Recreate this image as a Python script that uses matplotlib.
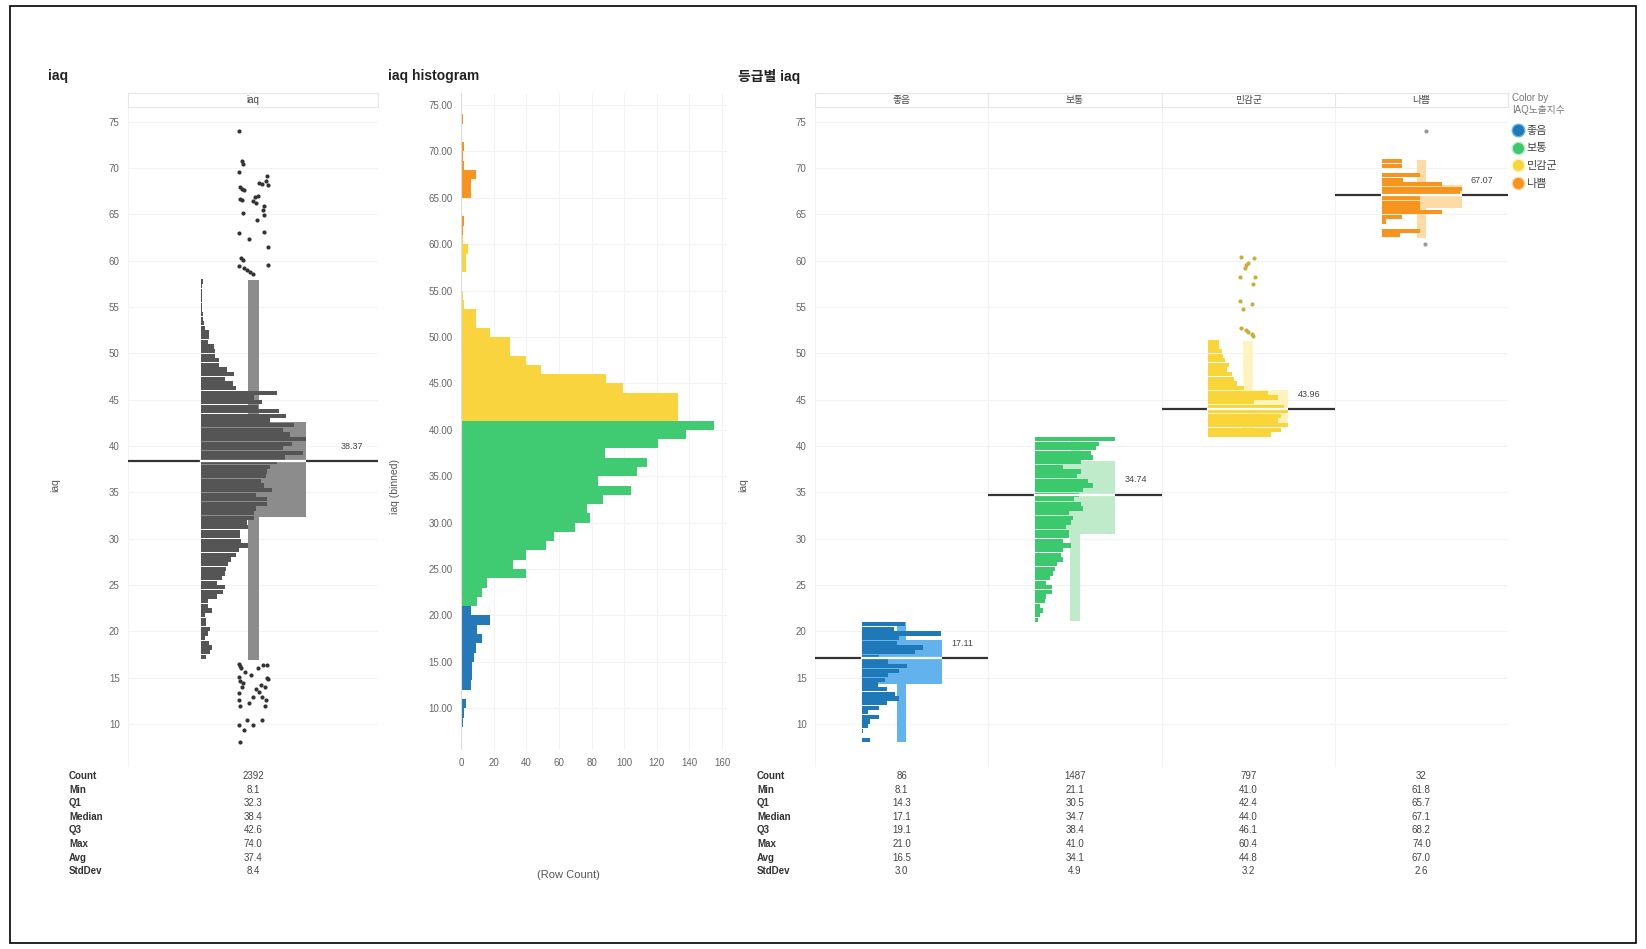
import numpy as np
import matplotlib
matplotlib.use('Agg')
import matplotlib.pyplot as plt
from matplotlib.patches import Rectangle
from matplotlib.lines import Line2D

plt.rcParams['font.family'] = ['Liberation Sans', 'Noto Sans CJK KR', 'DejaVu Sans']

W, H = 1646, 949

# ---------------- data ----------------
groups = ['좋음', '보통', '민감군', '나쁨']
stat_names = ['Count', 'Min', 'Q1', 'Median', 'Q3', 'Max', 'Avg', 'StdDev']

# overall iaq
all_stats = [2392, 8.1, 32.3, 38.37, 42.6, 74.0, 37.4, 8.4]
all_whisker = [16.9, 57.9]
# fine histogram (0.5 bins from 17.0), relative length (1 = box width)
all_fine_start = 17.0
all_fine = [0.05, 0.09, 0.10, 0.08, 0.04, 0.07, 0.09, 0.05, 0.05, 0.04,
            0.10, 0.07, 0.07, 0.15, 0.21, 0.23, 0.15, 0.20, 0.23, 0.24,
            0.26, 0.29, 0.33, 0.36, 0.45, 0.38, 0.37, 0.37, 0.45, 0.44,
            0.50, 0.50, 0.52, 0.63, 0.63, 0.52, 0.68, 0.60, 0.57, 0.62,
            0.63, 0.66, 0.72, 0.80, 0.97, 0.78, 0.87, 1.00, 0.85, 0.78,
            0.89, 0.66, 0.81, 0.74, 0.54, 0.58, 0.50, 0.72, 0.33, 0.30,
            0.23, 0.31, 0.25, 0.17, 0.17, 0.13, 0.13, 0.12, 0.07, 0.08,
            0.08, 0.04, 0.03, 0.02, 0.02, 0.01, 0.01, 0.01, 0.01, 0.01,
            0.01, 0.02]
all_out_hi = [74.0, 70.8, 70.5, 69.6, 69.1, 68.6, 68.4, 68.3, 68.2, 68.0,
              67.8, 67.6, 67.0, 66.9, 66.7, 66.6, 66.4, 66.2, 65.9, 65.5,
              65.2, 64.9, 64.4, 63.1, 63.0, 62.4, 61.5, 60.3, 60.1, 59.5,
              59.4, 59.2, 59.0, 58.8, 58.6]
all_out_hi_jit = [0.444, 0.456, 0.46, 0.444, 0.556, 0.552, 0.524, 0.536, 0.56, 0.448,
                  0.456, 0.464, 0.52, 0.508, 0.448, 0.456, 0.50, 0.512, 0.544, 0.54,
                  0.46, 0.544, 0.516, 0.544, 0.444, 0.484, 0.56, 0.452, 0.46, 0.56,
                  0.444, 0.464, 0.476, 0.488, 0.50]
all_out_lo = [16.5, 16.4, 16.4, 16.2, 16.0, 16.0, 15.6, 15.3, 15.1, 15.0,
              14.8, 14.6, 14.4, 14.2, 14.0, 14.0, 13.8, 13.5, 13.3, 12.9,
              12.9, 12.6, 12.6, 12.3, 11.9, 11.9, 10.4, 10.4, 9.9, 9.9,
              9.3, 8.1]
all_out_lo_jit = [0.444, 0.54, 0.556, 0.448, 0.452, 0.52, 0.468, 0.49, 0.444, 0.556,
                  0.56, 0.448, 0.46, 0.53, 0.456, 0.548, 0.512, 0.524, 0.444, 0.50,
                  0.536, 0.444, 0.552, 0.484, 0.448, 0.548, 0.476, 0.536, 0.444, 0.50,
                  0.464, 0.448]

# per-group stats
g_count = [86, 1487, 797, 32]
g_min = [8.1, 21.1, 41.0, 61.8]
g_q1 = [14.3, 30.5, 42.4, 65.7]
g_median = [17.11, 34.74, 43.96, 67.07]
g_q3 = [19.1, 38.4, 46.1, 68.2]
g_max = [21.0, 41.0, 60.4, 74.0]
g_avg = [16.5, 34.1, 44.8, 67.0]
g_std = [3.0, 4.9, 3.2, 2.6]
g_whisk_lo = [8.1, 21.1, 41.0, 62.5]
g_whisk_hi = [21.0, 41.0, 51.3, 70.9]

good_fine = [0.10, 0.00, 0.02, 0.08, 0.10, 0.21, 0.08, 0.21, 0.31, 0.46,
             0.42, 0.31, 0.20, 0.29, 0.33, 0.46, 0.56, 0.33, 0.21, 0.67,
             0.77, 0.44, 0.46, 0.99, 0.40, 0.54]
normal_fine = [0.04, 0.06, 0.10, 0.06, 0.12, 0.14, 0.21, 0.21, 0.14, 0.19,
               0.23, 0.25, 0.27, 0.35, 0.33, 0.35, 0.45, 0.35, 0.43, 0.43,
               0.39, 0.45, 0.47, 0.43, 0.60, 0.58, 0.49, 0.55, 0.60, 0.72,
               0.66, 0.53, 0.58, 0.35, 0.58, 0.72, 0.70, 0.76, 0.80, 1.00]
sens_fine = [0.78, 0.91, 1.00, 0.87, 0.91, 1.00, 0.94, 0.57, 0.87, 0.75,
             0.45, 0.36, 0.32, 0.30, 0.24, 0.26, 0.21, 0.19, 0.17, 0.14, 0.13]
bad_fine = [0.23, 0.48, 0.00, 0.05, 0.25, 0.75, 0.48, 0.48, 0.48, 0.98,
            1.00, 0.75, 0.27, 0.48, 0.00, 0.25, 0.25]
g_fine = [good_fine, normal_fine, sens_fine, bad_fine]
g_fine_start = [8.0, 21.0, 41.0, 62.5]

g_out = [[], [],
         [60.4, 60.3, 59.8, 59.5, 59.2, 58.2, 58.2, 57.5, 55.7, 55.3, 54.8,
          52.7, 52.5, 52.3, 52.1, 51.9],
         [74.0, 61.8]]
g_out_jit = [[], [],
             [0.46, 0.535, 0.50, 0.49, 0.48, 0.455, 0.54, 0.53, 0.455, 0.52, 0.47,
              0.46, 0.49, 0.50, 0.52, 0.53],
             [0.525, 0.52]]

# histogram of iaq (1-unit bins) split by grade
hist_good_start, hist_good = 8, [1, 2, 3, 0, 6, 7, 7, 8, 9, 13, 10, 18, 6]
hist_normal_start, hist_normal = 21, [10, 13, 16, 40, 32, 40, 52, 57, 70, 79,
                                      77, 87, 104, 84, 108, 114, 88, 121, 138, 155]
hist_sens_start, hist_sens = 41, [133, 133, 133, 99, 89, 49, 40, 30, 30, 18,
                                  9, 9, 2, 1, 0, 0, 3, 3, 4, 1]
hist_bad_start, hist_bad = 61, [1, 2, 0, 0, 6, 6, 9, 2, 1, 2, 0, 0, 1]

dark_cols = ['#1F78B8', '#3CC86C', '#F9D53A', '#F7941E']
light_cols = ['#62B2EE', '#C0EBCB', '#FFF3BF', '#FDDBA6']
hist_cols = ['#2579B8', '#40CB72', '#FAD43E', '#F7931E']
dot_cols = ['#333333', '#333333', '#C8AE3A', '#999999']

# ---------------- figure ----------------
fig = plt.figure(figsize=(W / 100, H / 100), dpi=100)


def px_axes(x0, y0, x1, y1):
    return fig.add_axes([x0 / W, 1 - y1 / H, (x1 - x0) / W, (y1 - y0) / H])


def fig_text(x, y, s, **kw):
    fig.text(x / W, 1 - y / H, s, **kw)


fig.add_artist(Rectangle((10 / W, 1 - 943 / H), 1626 / W, 937 / H,
                         transform=fig.transFigure, fill=False, ec='black', lw=1.2))

TICK = dict(labelsize=7, colors='#666666', length=0, pad=6)
YLIM = (5.35, 76.6)
YT = np.arange(10, 80, 5)
GRID = '#F3F3F3'


def style_panel(ax, xmax):
    ax.set_ylim(*YLIM)
    ax.set_xlim(0, xmax)
    for s in ax.spines.values():
        s.set_visible(False)
    ax.set_yticks(YT)
    ax.set_xticks([])
    ax.tick_params(axis='y', **TICK)
    for t in YT:
        ax.axhline(t, color=GRID, lw=0.8, zorder=0)
    for v in range(int(xmax) + 1):
        ax.axvline(v, color=GRID, lw=0.8, zorder=0)


def strip(x0, x1, labels):
    sa = px_axes(x0, 93, x1, 107)
    sa.set_xlim(0, len(labels))
    sa.set_ylim(0, 1)
    sa.set_xticks([])
    sa.set_yticks([])
    for s in sa.spines.values():
        s.set_color('#E6E6E6')
        s.set_linewidth(0.8)
    for i, lab in enumerate(labels):
        sa.text(i + 0.5, 0.5, lab, ha='center', va='center', fontsize=7, color='#444444')
        if i > 0:
            sa.axvline(i, color='#E6E6E6', lw=0.8)


def boxhist(ax, x0, box_l, box_w, ww, fine_start, fine, q1, q3, med, wlo, whi,
            out_y, out_x, dark, light, dot, lab_x):
    ax.add_patch(Rectangle((x0 + 0.5 - ww / 2, wlo), ww, whi - wlo, color=light, lw=0, zorder=1))
    ax.add_patch(Rectangle((x0 + box_l, q1), box_w, q3 - q1, color=light, lw=0, zorder=1.5))
    ys = fine_start + 0.5 * np.arange(len(fine))
    ax.barh(ys + 0.25, np.array(fine) * box_w, left=x0 + box_l, height=0.46,
            color=dark, lw=0, zorder=2)
    ax.plot([x0, x0 + box_l], [med, med], color='#333333', lw=1.6, zorder=3, solid_capstyle='butt')
    ax.plot([x0 + box_l, x0 + box_l + box_w], [med, med], color='white', lw=1.6, zorder=3)
    ax.plot([x0 + box_l + box_w, x0 + 1], [med, med], color='#333333', lw=1.6, zorder=3,
            solid_capstyle='butt')
    ax.text(x0 + lab_x, med + 1.6, f'{med:.2f}', ha='center', va='center', fontsize=6.5,
            color='#444444')
    if len(out_y):
        ax.scatter(x0 + np.array(out_x), out_y, s=9, color=dot, lw=0, zorder=4)


# ---- panel 1: iaq box + histogram ----
ax1 = px_axes(128, 107, 378, 767)
style_panel(ax1, 1)
strip(128, 378, ['iaq'])
boxhist(ax1, 0, 0.292, 0.42, 0.044, all_fine_start, all_fine,
        all_stats[2], all_stats[4], all_stats[3], all_whisker[0], all_whisker[1],
        all_out_hi + all_out_lo, all_out_hi_jit + all_out_lo_jit,
        '#555555', '#8C8C8C', '#333333', 0.896)
fig_text(48, 76, 'iaq', fontsize=10, fontweight='bold', va='center', color='#222222')
fig_text(55, 485, 'iaq', fontsize=7.5, rotation=90, va='center', ha='center', color='#555555')

# ---- panel 2: histogram ----
ax2 = px_axes(461, 93, 727, 750)
ax2.set_ylim(5.5, 76.3)
ax2.set_xlim(0, 163)
for s in ax2.spines.values():
    s.set_visible(False)
ax2.axvline(0, color='#DDDDDD', lw=0.8, zorder=3)
ax2.set_yticks(YT)
ax2.set_yticklabels([f'{t:.2f}' for t in YT])
ax2.set_xticks(np.arange(0, 161, 20))
ax2.tick_params(axis='both', **TICK)
for t in YT:
    ax2.axhline(t, color=GRID, lw=0.8, zorder=0)
for t in np.arange(20, 161, 20):
    ax2.axvline(t, color=GRID, lw=0.8, zorder=0)
for (st, vals), c in zip([(hist_good_start, hist_good), (hist_normal_start, hist_normal),
                          (hist_sens_start, hist_sens), (hist_bad_start, hist_bad)], hist_cols):
    ys = st + np.arange(len(vals))
    ax2.barh(ys, vals, height=1.0, align='edge', color=c, lw=0, zorder=2)
fig_text(388, 76, 'iaq histogram', fontsize=10, fontweight='bold', va='center', color='#222222')
fig_text(395, 487, 'iaq (binned)', fontsize=7.5, rotation=90, va='center', ha='center',
         color='#555555')
fig_text(568, 875, '(Row Count)', fontsize=8, ha='center', va='center', color='#555555')

# ---- panel 3: by grade ----
ax3 = px_axes(815, 107, 1508, 767)
style_panel(ax3, 4)
strip(815, 1508, groups)
for i in range(4):
    boxhist(ax3, i, 0.27, 0.462, 0.054, g_fine_start[i], g_fine[i],
            g_q1[i], g_q3[i], g_median[i], g_whisk_lo[i], g_whisk_hi[i],
            g_out[i], g_out_jit[i], dark_cols[i], light_cols[i], dot_cols[i], 0.85)
fig_text(738, 76, '등급별 iaq', fontsize=10, fontweight='bold', va='center', color='#222222')
fig_text(743, 485, 'iaq', fontsize=7.5, rotation=90, va='center', ha='center', color='#555555')

# ---- stats tables ----
row_y = [776, 789.6, 803.2, 816.8, 830.4, 844, 857.6, 871.2]
g_rows = [g_count, g_min, g_q1, g_median, g_q3, g_max, g_avg, g_std]


def fmt(i, v):
    return f'{v:d}' if i == 0 else f'{v:.1f}'


for r, name in enumerate(stat_names):
    fig_text(69, row_y[r], name, fontsize=7, fontweight='bold', va='center', color='#333333')
    fig_text(757, row_y[r], name, fontsize=7, fontweight='bold', va='center', color='#333333')
    fig_text(253, row_y[r], fmt(r, all_stats[r]), fontsize=7, ha='center', va='center',
             color='#444444')
    for i in range(4):
        cx = 815 + 173.25 * (i + 0.5)
        fig_text(cx, row_y[r], fmt(r, g_rows[r][i]), fontsize=7, ha='center', va='center',
                 color='#444444')

# ---- legend ----
handles = [Line2D([], [], marker='o', ls='', markersize=9, markerfacecolor=dark_cols[i],
                  markeredgecolor=light_cols[i], markeredgewidth=1.0) for i in range(4)]
leg = fig.legend(handles, groups, loc='upper left', bbox_to_anchor=(1512 / W, 1 - 93 / H),
                 frameon=False, title='Color by\nIAQ노출지수', fontsize=8, title_fontsize=7,
                 alignment='left', handletextpad=0.3, labelspacing=0.7, borderaxespad=0,
                 handlelength=1.0, borderpad=0)
leg._legend_box.sep = 8
leg.get_title().set_color('#777777')
for t in leg.get_texts():
    t.set_color('#444444')

fig.savefig('out.png', dpi=100, facecolor='white')
